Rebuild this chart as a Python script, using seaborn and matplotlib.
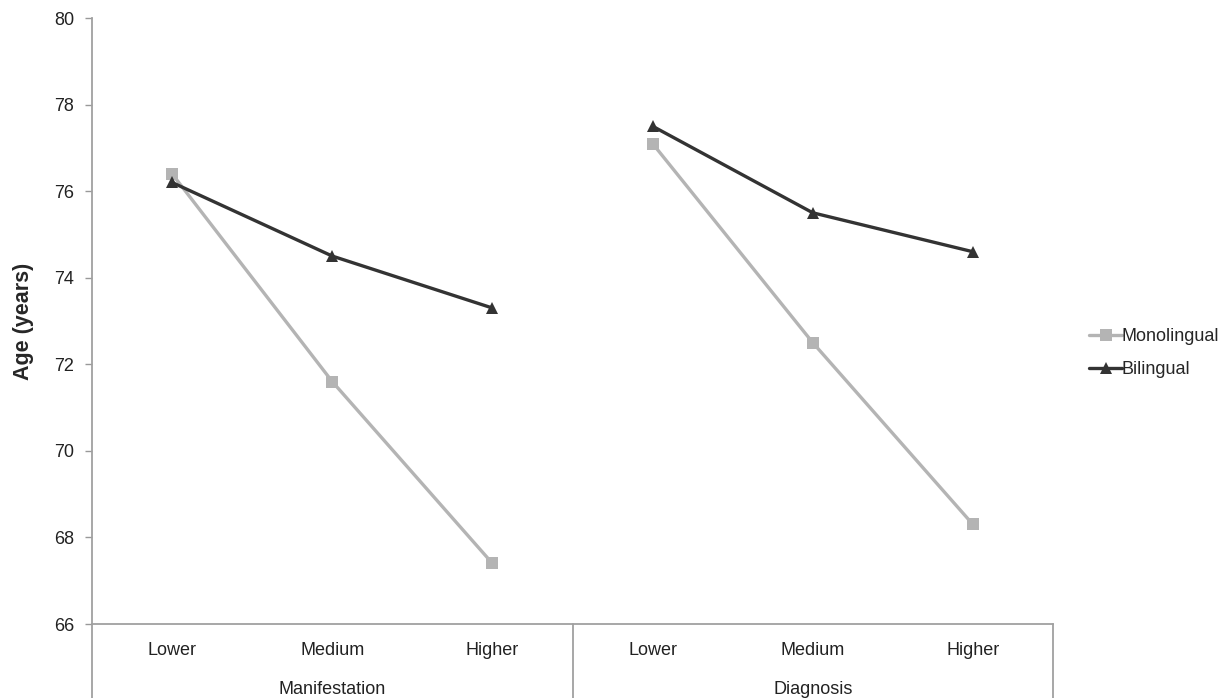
import pandas as pd
import numpy as np
import matplotlib.pyplot as plt
import seaborn as sns
from matplotlib.lines import Line2D

# values
groups = ['Manifestation', 'Diagnosis']
levels = ['Lower', 'Medium', 'Higher']
monolingual = [76.4, 71.6, 67.4, 77.1, 72.5, 68.3]
bilingual = [76.2, 74.5, 73.3, 77.5, 75.5, 74.6]
y_ticks = [66, 68, 70, 72, 74, 76, 78, 80]

colors = {'Monolingual': '#b4b4b4', 'Bilingual': '#333333'}
markers = {'Monolingual': 's', 'Bilingual': '^'}

rows = []
for lang, vals in [('Monolingual', monolingual), ('Bilingual', bilingual)]:
    for i, v in enumerate(vals):
        rows.append({'pos': i, 'age': v, 'lang': lang,
                     'group': groups[i // 3], 'level': levels[i % 3]})
df = pd.DataFrame(rows)

sns.set_style('white')
plt.rcParams['font.family'] = ['Liberation Sans', 'DejaVu Sans']

fig = plt.figure(figsize=(12.27, 6.98), dpi=100)
ax = fig.add_axes([92 / 1227, 74 / 698, 961 / 1227, 606 / 698])

sns.lineplot(data=df, x='pos', y='age', hue='lang', style='lang', units='group',
             estimator=None, palette=colors, markers=markers, dashes=False,
             linewidth=2.4, markersize=8.5, markeredgewidth=0, legend=False, ax=ax)

ax.set_xlim(-0.5, 5.5)
ax.set_ylim(66, 80)
ax.set_yticks(y_ticks)
ax.set_yticklabels([str(t) for t in y_ticks], fontsize=13, color='#222222')
ax.set_xticks(range(6))
ax.set_xticklabels(levels * 2, fontsize=13, color='#222222')
ax.tick_params(axis='x', length=0, pad=13)
ax.tick_params(axis='y', length=5, width=1, color='#999999', left=True, pad=8)
ax.set_xlabel('')
ax.set_ylabel('Age (years)', fontsize=15.5, fontweight='bold', labelpad=14)

for s in ['top', 'right']:
    ax.spines[s].set_visible(False)
for s in ['left', 'bottom']:
    ax.spines[s].set_color('#a0a0a0')
    ax.spines[s].set_linewidth(1.3)

# group separators running below the axis
trans = ax.get_xaxis_transform()
for x in [-0.5, 2.5, 5.5]:
    ax.plot([x, x], [0, -0.125], transform=trans, color='#a0a0a0', lw=1.3, clip_on=False)
for gi, g in enumerate(groups):
    ax.text(gi * 3 + 1, -0.108, g, transform=trans, ha='center', va='center',
            fontsize=13, color='#222222')

handles = [Line2D([], [], color=colors[k], marker=markers[k], lw=2.4, markersize=8.5,
                  markeredgewidth=0) for k in ['Monolingual', 'Bilingual']]
fig.legend(handles, ['Monolingual', 'Bilingual'], loc='center left',
           bbox_to_anchor=(1073 / 1227, 1 - 353 / 698), frameon=False,
           handlelength=1.8, handletextpad=0.0, labelspacing=0.9, fontsize=13)

fig.savefig('out.png', dpi=100)
